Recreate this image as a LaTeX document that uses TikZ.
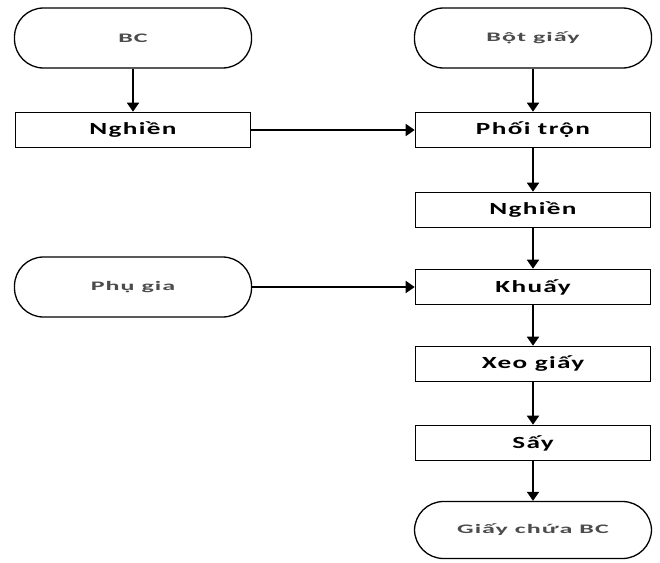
\documentclass[tikz,border=0pt]{standalone}
\usepackage{fontspec}
\setmainfont{Carlito}
\newfontfamily\boxfont[FakeStretch=1.6,LetterSpace=8]{Carlito}
\newfontfamily\termfont[FakeStretch=2.0,LetterSpace=8]{Carlito}
\usetikzlibrary{arrows.meta}
\tikzset{
  proc/.style={draw, line width=1.6pt, minimum width=235pt, minimum height=35pt, inner sep=0pt,
    font=\boxfont\bfseries\fontsize{17}{19}\selectfont},
  term/.style={draw, line width=1.3pt, rounded corners=29pt, minimum width=237pt, minimum height=60pt,
    inner sep=0pt, text=black!70, font=\termfont\bfseries\fontsize{13}{15}\selectfont},
  arr/.style={line width=1.8pt, -{Triangle[length=9pt,width=12pt]}}
}
\begin{document}
\begin{tikzpicture}[x=1pt,y=-1pt]
\useasboundingbox[fill=white] (0,0) rectangle (660,562);
\node[term] (bc) at (133,38) {BC};
\node[proc] (nl) at (133,130) {Nghiền};
\node[term] (bg) at (533,38) {Bột giấy};
\node[proc] (pt) at (533,130) {Phối trộn};
\node[proc] (nr) at (533,210) {Nghiền};
\node[term] (pg) at (133,287) {Phụ gia};
\node[proc] (kh) at (533,287) {Khuấy};
\node[proc] (xg) at (533,364) {Xeo giấy};
\node[proc] (sy) at (533,443) {Sấy};
\node[term, minimum height=57pt] (gc) at (533,530) {Giấy chứa BC};
\draw[arr] (bc) -- (nl);
\draw[arr] (bg) -- (pt);
\draw[arr] (nl) -- (pt);
\draw[arr] (pt) -- (nr);
\draw[arr] (nr) -- (kh);
\draw[arr] (pg) -- (kh);
\draw[arr] (kh) -- (xg);
\draw[arr] (xg) -- (sy);
\draw[arr] (sy) -- (gc);
\end{tikzpicture}
\end{document}
